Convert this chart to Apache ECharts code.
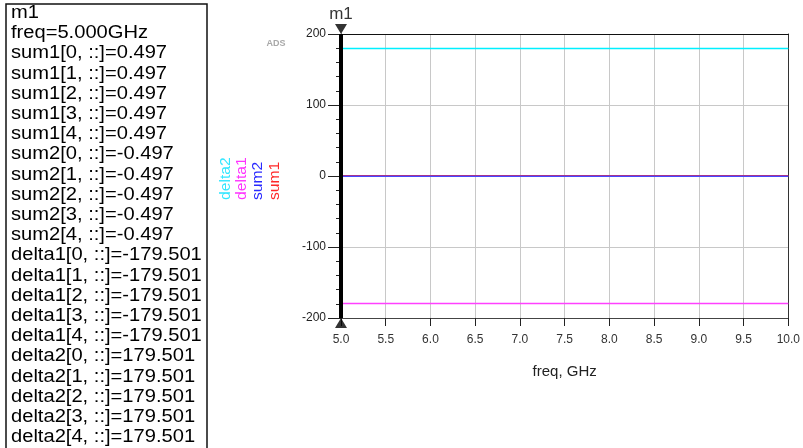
<!DOCTYPE html>
<html>
<head>
<meta charset="utf-8">
<script src="https://cdn.jsdelivr.net/npm/echarts@6/dist/echarts.min.js"></script>
<style>
  html, body { margin: 0; padding: 0; background: #fff; }
  #chart { width: 803px; height: 448px; }
</style>
</head>
<body>
<div id="chart"></div>
<script>
// Frequency sweep (GHz) and the four traces sampled on it
const freqGHz = [5.0, 5.5, 6.0, 6.5, 7.0, 7.5, 8.0, 8.5, 9.0, 9.5, 10.0];
const sum1   = [0.497, 0.497, 0.497, 0.497, 0.497, 0.497, 0.497, 0.497, 0.497, 0.497, 0.497];
const sum2   = [-0.497, -0.497, -0.497, -0.497, -0.497, -0.497, -0.497, -0.497, -0.497, -0.497, -0.497];
const delta1 = [-179.501, -179.501, -179.501, -179.501, -179.501, -179.501, -179.501, -179.501, -179.501, -179.501, -179.501];
const delta2 = [179.501, 179.501, 179.501, 179.501, 179.501, 179.501, 179.501, 179.501, 179.501, 179.501, 179.501];

// Axis ticks
const xTicks = [5.0, 5.5, 6.0, 6.5, 7.0, 7.5, 8.0, 8.5, 9.0, 9.5, 10.0];
const yTicks = [-200, -100, 0, 100, 200];

// Marker
const markerName = 'm1';
const markerFreq = 5.0;
const traceIndices = [0, 1, 2, 3, 4];

const traceNames  = ['sum1', 'sum2', 'delta1', 'delta2'];
const traceData   = [sum1, sum2, delta1, delta2];
const traceColors = ['#ff2020', '#4848ff', '#ff40ff', '#00f0ff'];
const legendColors = ['#ff2a2a', '#2a2aff', '#ff33ff', '#33e6ff'];

const FONT = '"Liberation Sans", Arial, sans-serif';

// Value of a trace at the marker frequency
function atMarker(arr) {
  return arr[freqGHz.indexOf(markerFreq)];
}

// Marker readout lines
const readout = [markerName, 'freq=' + markerFreq.toFixed(3) + 'GHz'];
traceNames.forEach((name, k) => {
  traceIndices.forEach(i => {
    readout.push(name + '[' + i + ', ::]=' + atMarker(traceData[k]).toFixed(3));
  });
});

const graphics = [];
// readout box
graphics.push({
  type: 'rect', x: 6, y: 4, z: 10,
  shape: { x: 0, y: 0, width: 201, height: 470 },
  style: { fill: '#fff', stroke: '#111', lineWidth: 1.5 }
});
graphics.push({
  type: 'text', x: 11, y: 3, scaleX: 1.15, z: 11,
  style: {
    text: readout.join('\n'),
    fontFamily: FONT, fontSize: 17.5, lineHeight: 20.2,
    fill: '#000', align: 'left', verticalAlign: 'top'
  }
});
// vertical trace legend (drawn bottom-to-top)
const legendX = [275, 258, 242, 226];
traceNames.forEach((name, k) => {
  graphics.push({
    type: 'text', x: legendX[k], y: 200, rotation: Math.PI / 2, scaleX: 1.12, z: 11,
    style: { text: name, fontFamily: FONT, fontSize: 14, fill: legendColors[k], align: 'left', verticalAlign: 'middle' }
  });
});
// tool tag
graphics.push({
  type: 'text', x: 276, y: 44, z: 11,
  style: { text: 'ADS', fontFamily: FONT, fontWeight: 'bold', fontSize: 9, fill: '#a8a8a8', align: 'center', verticalAlign: 'middle' }
});

const series = traceNames.map((name, k) => ({
  name: name,
  type: 'line',
  data: freqGHz.map((f, j) => [f, traceData[k][j]]),
  showSymbol: false,
  lineStyle: { color: traceColors[k], width: 1.5 },
  itemStyle: { color: traceColors[k] },
  z: 3 + k,
  silent: true,
  animation: false
}));

// Marker line at the marker frequency
series.push({
  name: markerName,
  type: 'line',
  data: [[markerFreq, yTicks[0]], [markerFreq, yTicks[yTicks.length - 1]]],
  showSymbol: false,
  lineStyle: { color: '#000', width: 4 },
  z: 20, silent: true, animation: false
});
// Marker end triangles and name
series.push({
  type: 'scatter',
  clip: false,
  z: 21, silent: true, animation: false,
  symbol: 'triangle',
  symbolSize: [12, 10],
  itemStyle: { color: '#000' },
  data: [
    { value: [markerFreq, yTicks[yTicks.length - 1]], symbolRotate: 180, symbolOffset: [0, -5],
      label: { show: true, position: 'top', distance: 1, formatter: markerName,
               fontFamily: FONT, fontSize: 17, color: '#000' } },
    { value: [markerFreq, yTicks[0]], symbolRotate: 0, symbolOffset: [0, 5] }
  ]
});

const chart = echarts.init(document.getElementById('chart'));
chart.setOption({
  animation: false,
  backgroundColor: '#fff',
  grid: { left: 341, right: 13, top: 34, bottom: 130, containLabel: false },
  xAxis: [{
    type: 'value',
    min: xTicks[0], max: xTicks[xTicks.length - 1], interval: 0.5,
    name: 'freq, GHz', nameLocation: 'middle', nameGap: 46,
    nameTextStyle: { fontFamily: FONT, fontSize: 15, color: '#222' },
    axisLine: { show: true, onZero: false, lineStyle: { color: '#444', width: 1 } },
    axisTick: { show: true, length: 8, lineStyle: { color: '#222' } },
    axisLabel: { fontFamily: FONT, fontSize: 12, color: '#333', margin: 16,
                 formatter: v => v.toFixed(1) },
    splitLine: { show: true, lineStyle: { color: '#c8c8c8', width: 1 } }
  }, {
    type: 'value', position: 'top',
    min: xTicks[0], max: xTicks[xTicks.length - 1],
    axisLine: { show: true, onZero: false, lineStyle: { color: '#111', width: 1 } },
    axisTick: { show: false }, axisLabel: { show: false }, splitLine: { show: false }
  }],
  yAxis: [{
    type: 'value',
    min: yTicks[0], max: yTicks[yTicks.length - 1], interval: 100,
    axisLine: { show: true, onZero: false, lineStyle: { color: '#000', width: 1 } },
    axisTick: { show: true, length: 13, lineStyle: { color: '#222' } },
    minorTick: { show: true, splitNumber: 5, length: 5, lineStyle: { color: '#222' } },
    axisLabel: { fontFamily: FONT, fontSize: 12, color: '#222', margin: 15 },
    splitLine: { show: true, lineStyle: { color: '#c8c8c8', width: 1 } }
  }, {
    type: 'value', position: 'right',
    min: yTicks[0], max: yTicks[yTicks.length - 1],
    axisLine: { show: true, onZero: false, lineStyle: { color: '#333', width: 1 } },
    axisTick: { show: false }, axisLabel: { show: false }, splitLine: { show: false }
  }],
  series: series,
  graphic: graphics
});
</script>
</body>
</html>
